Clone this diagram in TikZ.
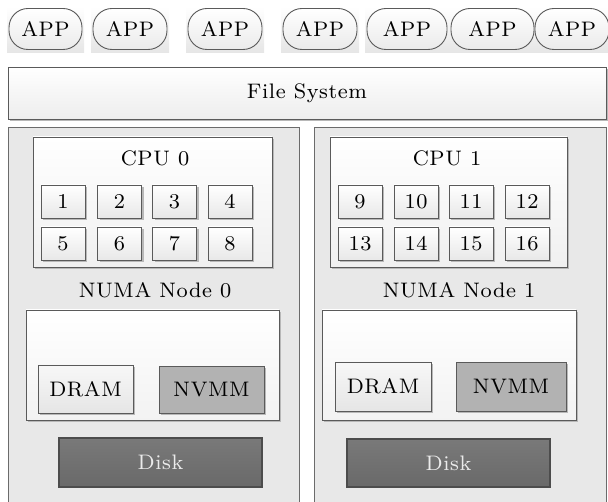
\documentclass[tikz,border=0pt]{standalone}
\usepackage{fontspec}
\newfontfamily\lmsp[LetterSpace=3]{lmroman8-regular.otf}
\usetikzlibrary{shadows}
\definecolor{bordc}{HTML}{5A5A5A}
\definecolor{panelc}{HTML}{E8E8E8}
\definecolor{nvmmc}{HTML}{B2B2B2}
\definecolor{diskc}{HTML}{727272}
\tikzset{
  base/.style={draw=bordc, line width=0.9pt, inner sep=0pt, font=\lmsp\fontsize{21}{25}\selectfont},
  shad/.style={drop shadow={shadow xshift=2pt, shadow yshift=-2pt, fill=black!28, opacity=1}},
  app/.style={base, rounded corners=19pt, minimum height=41pt, top color=white, bottom color=black!8},
  appbg/.style={top color=white, bottom color=black!10},
  fsbox/.style={base, shad, top color=white, bottom color=black!7},
  panel/.style={base, fill=panelc, draw=bordc!90},
  cpubox/.style={base, shad, top color=white, bottom color=black!6},
  core/.style={base, shad, minimum width=44pt, minimum height=33pt, top color=white, bottom color=black!9},
  membox/.style={base, shad, top color=white, bottom color=black!5},
  dram/.style={base, shad, top color=black!3, bottom color=black!10},
  nvmm/.style={base, shad, fill=nvmmc},
  disk/.style={base, draw=black!70, line width=1.2pt, top color=diskc!95!white, bottom color=diskc!92!black, text=white!92!black},
  lbl/.style={inner sep=0pt, font=\lmsp\fontsize{21}{25}\selectfont}
}
\begin{document}
\begin{tikzpicture}[x=1pt, y=-1pt]
\useasboundingbox (0,0) rectangle (608,502);
% APP background rectangles
\foreach \a/\b in {9/82, 93/167, 188/262, 283/357, 367/447, 451/534, 535/609}{
  \fill[appbg] (\a-2,7) rectangle (\b+2,53);
}
\node[app, minimum width=73pt] (app1) at (45.5,29) {APP};
\node[app, minimum width=74pt] (app2) at (130,29) {APP};
\node[app, minimum width=74pt] (app3) at (225,29) {APP};
\node[app, minimum width=74pt] (app4) at (320,29) {APP};
\node[app, minimum width=80pt] (app5) at (407,29) {APP};
\node[app, minimum width=83pt] (app6) at (492.5,29) {APP};
\node[app, minimum width=74pt] (app7) at (572,29) {APP};
% File system
\node[fsbox, minimum width=598pt, minimum height=52pt] (fs) at (307,93) {File System};
% Panels
\node[panel, minimum width=291pt, minimum height=385pt] (p0) at (153.5,319.5) {};
\node[panel, minimum width=292pt, minimum height=385pt] (p1) at (460,319.5) {};
% CPU boxes
\node[cpubox, minimum width=239pt, minimum height=130pt] (cpu0) at (152.5,202) {};
\node[lbl] (cpu0l) at (155,158) {CPU 0};
\node[cpubox, minimum width=237pt, minimum height=130pt] (cpu1) at (448.5,202) {};
\node[lbl] (cpu1l) at (447,158) {CPU 1};
% cores
\node[core] (c1) at (63,201.5) {1};
\node[core] (c2) at (119.5,201.5) {2};
\node[core] (c3) at (174.5,201.5) {3};
\node[core] (c4) at (230,201.5) {4};
\node[core] (c5) at (63,243.5) {5};
\node[core] (c6) at (119.5,243.5) {6};
\node[core] (c7) at (174.5,243.5) {7};
\node[core] (c8) at (230,243.5) {8};
\node[core] (c9) at (360,201.5) {9};
\node[core] (c10) at (416,201.5) {10};
\node[core] (c11) at (471,201.5) {11};
\node[core] (c12) at (527,201.5) {12};
\node[core] (c13) at (360,243.5) {13};
\node[core] (c14) at (416,243.5) {14};
\node[core] (c15) at (471,243.5) {15};
\node[core] (c16) at (527,243.5) {16};
% NUMA labels
\node[lbl] (n0) at (155,290) {NUMA Node 0};
\node[lbl] (n1) at (459,290) {NUMA Node 1};
% memory boxes
\node[membox, minimum width=253pt, minimum height=110pt] (m0) at (152.5,365) {};
\node[membox, minimum width=254pt, minimum height=110pt] (m1) at (449,365) {};
\node[dram, minimum width=95pt, minimum height=48pt] (dram0) at (85.5,389) {DRAM};
\node[nvmm, minimum width=105pt, minimum height=47pt] (nvmm0) at (211.5,389.5) {NVMM};
\node[dram, minimum width=96pt, minimum height=49pt] (dram1) at (383,386.5) {DRAM};
\node[nvmm, minimum width=110pt, minimum height=49pt] (nvmm1) at (511,386.5) {NVMM};
% disks
\node[disk, minimum width=203pt, minimum height=49pt] (disk0) at (160.5,462.5) {Disk};
\node[disk, minimum width=203pt, minimum height=48pt] (disk1) at (448.5,463) {Disk};
\end{tikzpicture}
\end{document}
